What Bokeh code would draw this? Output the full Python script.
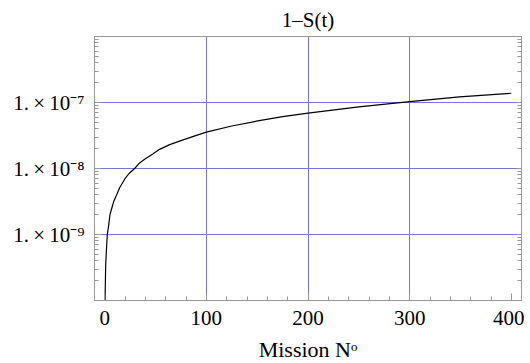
from bokeh.plotting import figure
from bokeh.models import Range1d, FixedTicker, LogAxis
from bokeh.embed import file_html
from bokeh.resources import INLINE

# Data (mission number vs 1-S(t))
missions = [0.25, 1, 2, 2.6, 4, 5.2, 7, 9, 11.8, 15, 20, 24, 29.5, 34, 40, 47,
            54, 64, 75, 88, 100, 125, 152, 175, 200, 250, 300, 349, 400]
failure_prob = [8e-11, 3.5e-10, 7e-10, 1e-9, 1.4e-9, 2e-9, 2.5e-9, 3.2e-9, 4e-9,
                5.2e-9, 7e-9, 8.4e-9, 1e-8, 1.2e-8, 1.4e-8, 1.65e-8, 1.95e-8,
                2.3e-8, 2.65e-8, 3.1e-8, 3.55e-8, 4.4e-8, 5.3e-8, 6.1e-8, 6.9e-8,
                8.6e-8, 1.03e-7, 1.22e-7, 1.38e-7]

x_major = [0, 100, 200, 300, 400]
x_minor = list(range(0, 420, 20))
x_grid = [100, 200, 300]
y_major = [1e-9, 1e-8, 1e-7]
y_labels = ["1.\u2009×\u200910\u207b\u2079", "1.\u2009×\u200910\u207b\u2078", "1.\u2009×\u200910\u207b\u2077"]
y_minor = [k * 10.0 ** e for e in range(-10, -6) for k in range(1, 10)]

FONT = "Liberation Serif"
GRID = "#7777d9"
FRAME = "#999999"

p = figure(
    output_backend="svg", toolbar_location=None,
    y_axis_type="log",
    x_range=Range1d(-10, 410), y_range=Range1d(1e-10, 1e-6),
    frame_width=427, frame_height=264,
    min_border_left=94, min_border_right=3, min_border_top=33, min_border_bottom=54,
    title="1–S(t)",
)
p.title.align = "center"
p.title.text_font = FONT
p.title.text_font_style = "normal"
p.title.text_font_size = "21px"
p.title.text_color = "#000000"

p.background_fill_color = "#ffffff"
p.border_fill_color = "#ffffff"
p.outline_line_color = FRAME

p.line(missions, failure_prob, line_color="black", line_width=1.2)

# x axis
xa = p.xaxis[0]
xa.ticker = FixedTicker(ticks=x_major, minor_ticks=x_minor)
xa.axis_label = "Mission N\u1d52"
xa.axis_label_text_font = FONT
xa.axis_label_text_font_style = "normal"
xa.axis_label_text_font_size = "22px"
xa.axis_label_text_color = "#000000"
xa.axis_label_standoff = 9
xa.major_label_text_font = FONT
xa.major_label_text_font_size = "21px"
xa.major_label_standoff = 10

# y axis
ya = p.yaxis[0]
ya.ticker = FixedTicker(ticks=y_major, minor_ticks=y_minor)
ya.major_label_overrides = {v: s for v, s in zip(y_major, y_labels)}
ya.major_label_text_font = FONT
ya.major_label_text_font_size = "21px"
ya.major_label_standoff = 10

for ax in (xa, ya):
    ax.axis_line_color = FRAME
    ax.major_tick_line_color = FRAME
    ax.minor_tick_line_color = FRAME
    ax.major_tick_in = 7
    ax.major_tick_out = 0
    ax.minor_tick_in = 4
    ax.minor_tick_out = 0
    ax.major_label_text_color = "#000000"

# right axis: only tick marks, no labels
ra = LogAxis(ticker=FixedTicker(ticks=[], minor_ticks=y_minor))
ra.axis_line_color = FRAME
ra.minor_tick_line_color = FRAME
ra.minor_tick_in = 4
ra.minor_tick_out = 0
ra.major_tick_in = 0
ra.major_tick_out = 0
p.add_layout(ra, "right")

# grids
p.xgrid.ticker = FixedTicker(ticks=x_grid)
p.ygrid.ticker = FixedTicker(ticks=y_major)
for g in (p.xgrid, p.ygrid):
    g.grid_line_color = GRID
    g.grid_line_width = 1
    g.grid_line_alpha = 1.0
    g.minor_grid_line_color = None

open("out.html", "w").write(file_html(p, INLINE))
